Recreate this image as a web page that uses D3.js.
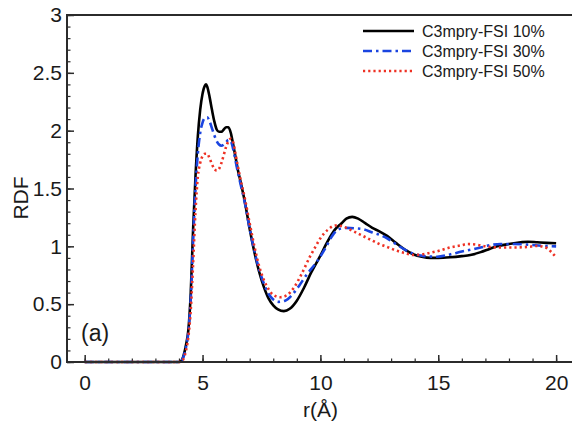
<!DOCTYPE html>
<html>
<head>
<meta charset="utf-8">
<script src="https://cdn.jsdelivr.net/npm/d3@7/dist/d3.min.js"></script>
<style>
  html, body { margin: 0; padding: 0; background: #fff; }
  svg { display: block; font-family: "Liberation Sans", Arial, Helvetica, sans-serif; }
</style>
</head>
<body>
<svg id="chart" width="572" height="430"></svg>
<script>
// Radial distribution functions, r in Å
const seriesNames = ["C3mpry-FSI 10%", "C3mpry-FSI 30%", "C3mpry-FSI 50%"];

const r10 = [0, 4.0, 4.1, 4.2, 4.3, 4.4, 4.5, 4.6, 4.7, 4.8, 4.9, 5.0, 5.1, 5.15, 5.2, 5.3, 5.4, 5.5, 5.6, 5.7, 5.8, 5.9, 6.0, 6.1, 6.2, 6.3, 6.4, 6.5, 6.6, 6.8, 7.0, 7.2, 7.4, 7.6, 7.8, 8.0, 8.2, 8.45, 8.7, 9.0, 9.3, 9.6, 10.0, 10.3, 10.6, 10.9, 11.1, 11.35, 11.6, 11.9, 12.2, 12.5, 12.83, 13.2, 13.6, 13.96, 14.3, 14.67, 15.0, 15.5, 16.0, 16.36, 16.8, 17.2, 17.5, 18.0, 18.5, 18.8, 19.2, 19.6, 20.0];
const g10 = [0, 0, 0.01, 0.06, 0.15, 0.28, 0.6, 1.15, 1.6, 1.95, 2.18, 2.32, 2.39, 2.40, 2.38, 2.29, 2.18, 2.08, 2.01, 1.99, 1.99, 2.01, 2.03, 2.03, 1.98, 1.88, 1.77, 1.66, 1.57, 1.38, 1.15, 0.95, 0.78, 0.65, 0.55, 0.49, 0.455, 0.44, 0.46, 0.53, 0.64, 0.77, 0.92, 1.04, 1.14, 1.20, 1.24, 1.255, 1.24, 1.20, 1.16, 1.13, 1.09, 1.03, 0.97, 0.93, 0.91, 0.90, 0.90, 0.905, 0.915, 0.925, 0.95, 0.98, 1.0, 1.02, 1.035, 1.04, 1.035, 1.03, 1.026];

const r30 = [0, 4.0, 4.1, 4.2, 4.3, 4.4, 4.5, 4.6, 4.7, 4.8, 4.9, 5.0, 5.1, 5.2, 5.3, 5.4, 5.5, 5.6, 5.7, 5.8, 5.9, 6.0, 6.1, 6.2, 6.3, 6.4, 6.5, 6.6, 6.8, 7.0, 7.2, 7.4, 7.6, 7.8, 8.0, 8.23, 8.5, 8.8, 9.1, 9.4, 9.86, 10.2, 10.5, 10.71, 10.9, 11.1, 11.5, 11.84, 12.2, 12.5, 12.83, 13.2, 13.6, 13.96, 14.4, 14.95, 15.5, 16.0, 16.36, 16.8, 17.2, 17.64, 18.2, 18.8, 19.4, 20.0];
const g30 = [0, 0, 0.01, 0.05, 0.13, 0.26, 0.55, 1.05, 1.5, 1.8, 1.98, 2.07, 2.11, 2.115, 2.08, 2.02, 1.96, 1.91, 1.88, 1.87, 1.88, 1.90, 1.92, 1.91, 1.84, 1.74, 1.64, 1.55, 1.37, 1.15, 0.96, 0.80, 0.68, 0.59, 0.54, 0.52, 0.53, 0.58, 0.66, 0.75, 0.87, 0.98, 1.09, 1.14, 1.155, 1.16, 1.155, 1.147, 1.12, 1.10, 1.07, 1.02, 0.97, 0.935, 0.915, 0.91, 0.93, 0.955, 0.97, 0.99, 1.01, 1.02, 1.02, 1.015, 1.005, 1.0];

const r50 = [0, 4.0, 4.1, 4.2, 4.3, 4.4, 4.5, 4.6, 4.7, 4.8, 4.9, 5.0, 5.1, 5.2, 5.3, 5.4, 5.5, 5.6, 5.7, 5.8, 5.9, 6.0, 6.1, 6.2, 6.3, 6.4, 6.5, 6.6, 6.8, 7.0, 7.2, 7.4, 7.6, 7.8, 8.0, 8.3, 8.6, 8.9, 9.2, 9.58, 9.8, 10.0, 10.3, 10.64, 10.9, 11.2, 11.41, 11.8, 12.2, 12.5, 12.83, 13.2, 13.6, 13.96, 14.3, 14.67, 15.0, 15.5, 16.0, 16.22, 16.6, 17.0, 17.64, 18.2, 18.8, 19.19, 19.5, 19.8, 20.0];
const g50 = [0, 0, 0.005, 0.03, 0.1, 0.22, 0.45, 0.85, 1.3, 1.6, 1.72, 1.78, 1.80, 1.80, 1.76, 1.71, 1.67, 1.655, 1.67, 1.72, 1.79, 1.86, 1.91, 1.93, 1.90, 1.80, 1.69, 1.59, 1.41, 1.20, 1.00, 0.83, 0.71, 0.63, 0.58, 0.56, 0.58, 0.65, 0.76, 0.92, 1.0, 1.07, 1.14, 1.18, 1.175, 1.15, 1.13, 1.09, 1.05, 1.02, 0.995, 0.965, 0.94, 0.925, 0.93, 0.945, 0.96, 0.99, 1.01, 1.02, 1.015, 1.0, 0.99, 0.99, 0.995, 1.003, 0.995, 0.95, 0.905];

const xTickValues = [0, 5, 10, 15, 20];
const xTickLabels = ["0", "5", "10", "15", "20"];
const yTickValues = [0, 0.5, 1, 1.5, 2, 2.5, 3];
const yTickLabels = ["0", "0.5", "1", "1.5", "2", "2.5", "3"];

const series = [
  { name: seriesNames[0], r: r10, g: g10, color: "#000000", width: 2.6, dash: null, cap: "butt" },
  { name: seriesNames[1], r: r30, g: g30, color: "#1a44e0", width: 2.6, dash: "9,4,2.5,4", cap: "butt" },
  { name: seriesNames[2], r: r50, g: g50, color: "#ee3124", width: 2.6, dash: "2.2,3", cap: "butt" }
];

const svg = d3.select("#chart");
const plotLeft = 67, plotTop = 15, plotBottom = 362;

const x = d3.scaleLinear().domain([-0.75, 20.75]).range([plotLeft, 573.8]);
const y = d3.scaleLinear().domain([0, 3]).range([plotBottom, plotTop]);

const textColor = "#1a1a1a";
const frameColor = "#2b2b2b";
const fontStack = "'Liberation Sans', Arial, sans-serif";

// minor ticks
svg.append("g")
  .attr("transform", `translate(0,${plotBottom})`)
  .call(d3.axisBottom(x).tickValues(d3.range(0, 21, 1)).tickSize(-3.5).tickFormat(""))
  .call(g => g.select(".domain").remove())
  .call(g => g.selectAll("line").attr("stroke", frameColor).attr("stroke-width", 1.2));
svg.append("g")
  .attr("transform", `translate(${plotLeft},0)`)
  .call(d3.axisLeft(y).tickValues(d3.range(0, 31, 1).map(v => v / 10)).tickSize(-3.5).tickFormat(""))
  .call(g => g.select(".domain").remove())
  .call(g => g.selectAll("line").attr("stroke", frameColor).attr("stroke-width", 1.2));

// major ticks with labels
svg.append("g")
  .attr("transform", `translate(0,${plotBottom})`)
  .call(d3.axisBottom(x).tickValues(xTickValues).tickSize(-7).tickPadding(13)
    .tickFormat((d, i) => xTickLabels[i]))
  .call(g => g.select(".domain").remove())
  .call(g => g.selectAll("line").attr("stroke", frameColor).attr("stroke-width", 1.5))
  .call(g => g.selectAll("text").attr("fill", textColor)
    .style("font-size", "21px").style("font-family", fontStack));

svg.append("g")
  .attr("transform", `translate(${plotLeft},0)`)
  .call(d3.axisLeft(y).tickValues(yTickValues).tickSize(-7).tickPadding(5)
    .tickFormat((d, i) => yTickLabels[i]))
  .call(g => g.select(".domain").remove())
  .call(g => g.selectAll("line").attr("stroke", frameColor).attr("stroke-width", 1.5))
  .call(g => g.selectAll("text").attr("fill", textColor)
    .style("font-size", "21px").style("font-family", fontStack));

// curves
const line = d3.line()
  .x(d => x(d[0]))
  .y(d => y(d[1]))
  .curve(d3.curveMonotoneX);

series.forEach(s => {
  const pts = s.r.map((rv, i) => [rv, s.g[i]]);
  svg.append("path")
    .datum(pts)
    .attr("fill", "none")
    .attr("stroke", s.color)
    .attr("stroke-width", s.width)
    .attr("stroke-linejoin", "round")
    .attr("stroke-linecap", s.cap)
    .attr("stroke-dasharray", s.dash)
    .attr("d", line);
});

// plot frame
svg.append("rect")
  .attr("x", plotLeft).attr("y", plotTop)
  .attr("width", x.range()[1] - plotLeft).attr("height", plotBottom - plotTop)
  .attr("fill", "none").attr("stroke", frameColor).attr("stroke-width", 2);

// legend
const legend = svg.append("g");
const legendRows = [31, 51, 71];
series.forEach((s, i) => {
  legend.append("line")
    .attr("x1", 363).attr("x2", 414)
    .attr("y1", legendRows[i]).attr("y2", legendRows[i])
    .attr("stroke", s.color).attr("stroke-width", s.width)
    .attr("stroke-linecap", s.cap)
    .attr("stroke-dasharray", s.dash);
  legend.append("text")
    .attr("x", 422).attr("y", legendRows[i]).attr("dy", "0.36em")
    .attr("fill", textColor)
    .style("font-size", "16px")
    .text(s.name);
});

// axis titles
svg.append("text")
  .attr("x", x(10)).attr("y", 417)
  .attr("text-anchor", "middle")
  .attr("fill", textColor)
  .style("font-size", "21px")
  .text("r(Å)");

svg.append("text")
  .attr("transform", "translate(28,198) rotate(-90)")
  .attr("text-anchor", "middle")
  .attr("fill", textColor)
  .style("font-size", "21px")
  .text("RDF");

// panel tag
svg.append("text")
  .attr("x", 81).attr("y", 341)
  .attr("fill", textColor)
  .style("font-size", "23px")
  .text("(a)");
</script>
</body>
</html>
